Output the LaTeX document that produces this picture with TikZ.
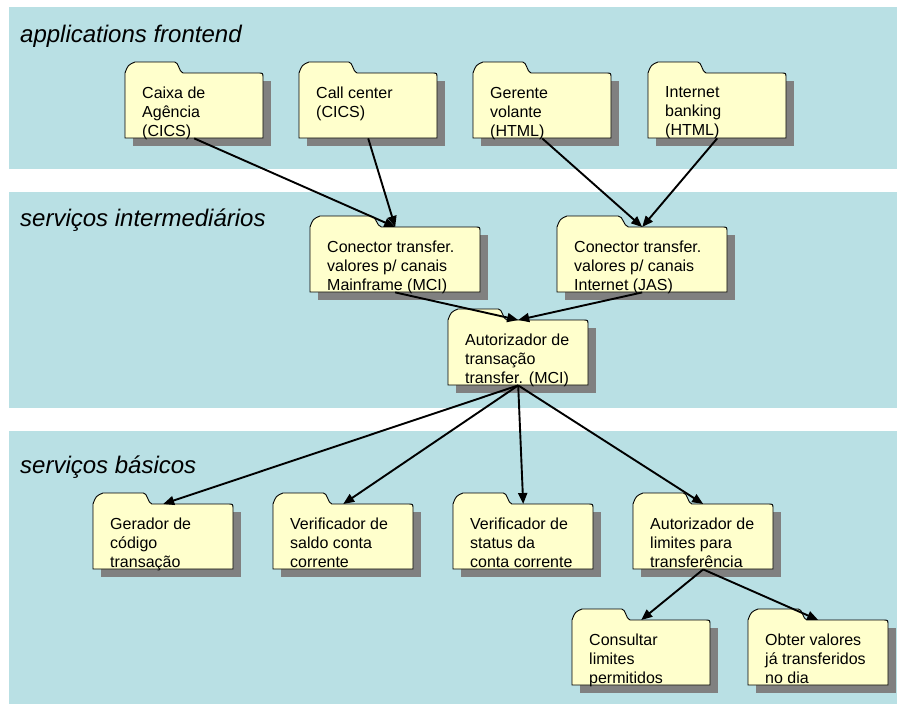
\documentclass[tikz,border=0pt]{standalone}
\usepackage{fontspec}
\setmainfont{Liberation Sans}
\usetikzlibrary{arrows.meta}
\definecolor{bandblue}{RGB}{185,224,228}
\definecolor{folderyellow}{RGB}{255,255,204}
\definecolor{shadowgray}{RGB}{128,128,128}
\tikzset{
  band/.style={fill=bandblue, draw=none},
  bandlabel/.style={anchor=base west, font=\fontsize{24}{28}\selectfont\itshape, inner sep=0pt},
  folderbody/.style={draw=none, fill=none, inner sep=0pt, anchor=north west},
  foldertext/.style={anchor=north west, align=left, font=\fontsize{16}{19}\selectfont, inner sep=0pt, execute at begin node=\strut},
  folderline/.style={draw=black, line width=0.9pt, fill=folderyellow},
  foldershadow/.style={fill=shadowgray, draw=none},
  conn/.style={line width=1.9pt, -{Triangle[length=11pt,width=9pt]}},
}
\newcommand\drawfolder[5]{%
  \path[foldershadow] (#2+8,#3+8) rectangle (#2+#4+8,#3+73);
  \path[folderline] (#2,#3+65) -- (#2,#3)
     .. controls (#2+3,#3-8) .. (#2+10,#3-11)
     -- (#2+0.36*#4,#3-11)
     .. controls (#2+0.39*#4,#3-11) and (#2+0.39*#4,#3-1) .. (#2+0.42*#4,#3)
     -- (#2+#4-5,#3) .. controls (#2+#4,#3) .. (#2+#4,#3+5)
     -- (#2+#4,#3+65) -- cycle;
  \node[folderbody, minimum width=#4, minimum height=65] (#1) at (#2,#3) {};
  \node[foldertext] (#1-t) at (#2+17,#3+27-13.3) {#5};
}
\begin{document}
\begin{tikzpicture}[x=1pt, y=-1pt]
\useasboundingbox (0,0) rectangle (897,704);
% bands
\path[band] (9,7) rectangle (897,169);
\path[band] (9,192) rectangle (897,408);
\path[band] (9,431) rectangle (897,704);
\node[bandlabel] (lab1) at (20,42) {applications frontend};
\node[bandlabel] (lab2) at (20,226) {serviços intermediários};
\node[bandlabel] (lab3) at (20,473) {serviços básicos};
% folders
\drawfolder{f1}{125}{73}{138}{Caixa de\\Agência\\(CICS)}
\drawfolder{f2}{299}{73}{138}{Call center\\(CICS)}
\drawfolder{f3}{473}{73}{138}{Gerente\\volante\\(HTML)}
\drawfolder{f4}{648}{73}{138}{Internet\\banking\\(HTML)}
\drawfolder{f5}{310}{227}{170}{Conector transfer.\\valores p/ canais\\Mainframe (MCI)}
\drawfolder{f6}{557}{227}{170}{Conector transfer.\\valores p/ canais\\Internet (JAS)}
\drawfolder{f7}{448}{320}{140}{Autorizador de\\transação\\transfer. (MCI)}
\drawfolder{f8}{93}{504}{140}{Gerador de\\código\\transação}
\drawfolder{f9}{273}{504}{140}{Verificador de\\saldo conta\\corrente}
\drawfolder{f10}{453}{504}{140}{Verificador de\\status da\\conta corrente}
\drawfolder{f11}{633}{504}{140}{Autorizador de\\limites para\\transferência}
\drawfolder{f12}{572}{620}{138}{Consultar\\limites\\permitidos}
\drawfolder{f13}{748}{620}{140}{Obter valores\\já transferidos\\no dia}
% connectors
\draw[conn] (f1.south) -- (f5.north);
\draw[conn] (f2.south) -- (f5.north);
\draw[conn] (f3.south) -- (f6.north);
\draw[conn] (f4.south) -- (f6.north);
\draw[conn] (f5.south) -- (f7.north);
\draw[conn] (f6.south) -- (f7.north);
\draw[conn] (f7.south) -- (f8.north);
\draw[conn] (f7.south) -- (f9.north);
\draw[conn] (f7.south) -- (f10.north);
\draw[conn] (f7.south) -- (f11.north);
\draw[conn] (f11.south) -- (f12.north);
\draw[conn] (f11.south) -- (f13.north);
\end{tikzpicture}
\end{document}
